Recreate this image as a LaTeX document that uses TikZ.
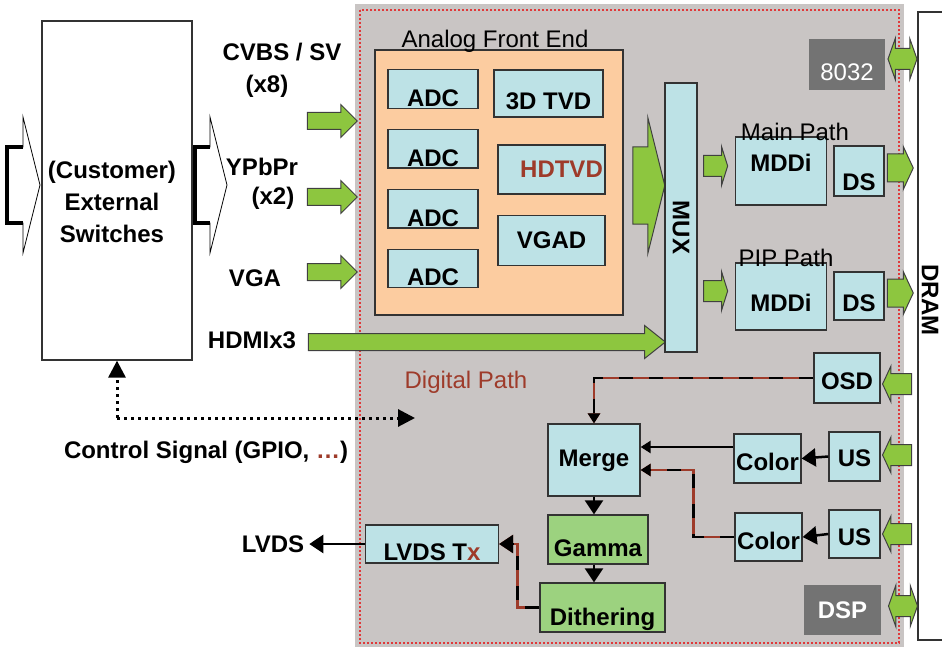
\documentclass[tikz,border=0pt]{standalone}
\usepackage{fontspec}
\setmainfont{Liberation Sans}
\usepackage{tikz}
\usetikzlibrary{positioning,arrows.meta,shapes.arrows}
\definecolor{ChipGray}{HTML}{C9C5C4}
\definecolor{FrontPeach}{HTML}{FCCCA0}
\definecolor{CellBlue}{HTML}{BDE2E6}
\definecolor{CellGreen}{HTML}{9CD27F}
\definecolor{ArrowGreen}{HTML}{8DC63F}
\definecolor{CoreGray}{HTML}{737373}
\definecolor{PathRed}{HTML}{9E3B2A}
\definecolor{BorderRed}{HTML}{E0393A}

\begin{document}
\begin{tikzpicture}[
  x=1pt,y=-1pt,
  every node/.style={align=center,inner sep=0pt},
  lbl/.style={font=\fontsize{24}{32}\selectfont\bfseries},
  plainlbl/.style={font=\fontsize{24}{32}\selectfont},
  cell/.style={lbl,draw=black!80,line width=1.3pt,fill=CellBlue},
  greencell/.style={cell,fill=CellGreen},
  core/.style={draw=black!55,line width=1.3pt,fill=CoreGray,text=white},
  garrow/.style={single arrow,draw=black!75,line width=1pt,fill=ArrowGreen,inner xsep=0pt,inner ysep=8pt,
    minimum width=32pt,single arrow head extend=8pt,minimum height=50pt},
  darrow/.style={double arrow,draw=black!75,line width=1pt,fill=ArrowGreen,inner xsep=0pt,inner ysep=10pt,
    minimum width=40pt,double arrow head extend=10pt,double arrow tip angle=141,minimum height=29pt},
  arr/.style={-{Triangle[width=12pt,length=10pt]},line width=2.5pt},
  bigarr/.style={-{Triangle[width=18pt,length=14pt]},line width=2.5pt},
  mixline/.style={arr,draw=PathRed,postaction={draw=black,dash pattern=on 14pt off 16pt}},
  ctrl/.style={-{Triangle[width=17pt,length=17pt]},line width=3pt,dash pattern=on 3pt off 4pt}
]
  \useasboundingbox (0,0) rectangle (942,647);

  % chip area
  \fill[ChipGray] (355,4) rectangle (904,647);
  \draw[BorderRed,line width=2pt,dash pattern=on 2pt off 2pt] (360,10) rectangle (899,643);

  % external side
  \node[draw=black!80,line width=1.3pt,fill=white,minimum width=150pt,minimum height=339pt] (cust) at (117,190.5) {};
  \node[lbl] (custlbl) at (112,202) {(Customer)\\External\\Switches};
  \draw[fill=white,line width=0.8pt] (7,147) -- (23,147) -- (23,117) -- (40,185) -- (23,253) -- (23,223) -- (7,223) -- cycle;
  \draw[line width=4pt] (23,147) -- (7,147) -- (7,223) -- (23,223);
  \draw[fill=white,line width=0.8pt] (195,147) -- (210,147) -- (210,117) -- (227,185) -- (210,253) -- (210,223) -- (195,223) -- cycle;
  \draw[line width=4pt] (210,147) -- (195,147) -- (195,223) -- (210,223);

  \node[lbl] (cvbslbl) at (282,52) {CVBS / SV};
  \node[lbl] (cvbsx) at (267,86) {(x8)};
  \node[lbl] (ypblbl) at (262,167) {YPbPr};
  \node[lbl] (ypbx) at (273,198) {(x2)};
  \node[lbl] (vgalbl) at (255,278) {VGA};
  \node[lbl] (hdmilbl) at (252,340) {HDMIx3};
  \node[lbl] (ctrllbl) at (206,452) {Control Signal (GPIO, \textcolor{PathRed}{…})};
  \node[lbl] (lvdslbl) at (273,544) {LVDS};

  \node[garrow] (cvbsarr) at (328,121) {};
  \node[garrow] (ypbarr) at (328,197) {};
  \node[garrow] (vgaarr) at (328,272) {};
  \node[garrow,minimum height=357pt,single arrow tip angle=77] (hdmiarr) at (481.5,342) {};

  % analog front end
  \node[draw=black!80,line width=1.3pt,fill=FrontPeach,minimum width=248pt,minimum height=265pt] (afe) at (499,182.5) {};
  \node[plainlbl] (afelbl) at (495,41) {Analog Front End};
  \node[cell,minimum width=90pt,minimum height=38.5pt,text height=35pt,text depth=0pt] (adc1) at (433,89) {ADC};
  \node[cell,minimum width=90pt,minimum height=38.5pt,text height=35pt,text depth=0pt,below=20pt of adc1] (adc2) {ADC};
  \node[cell,minimum width=90pt,minimum height=38.5pt,text height=35pt,text depth=0pt,below=20pt of adc2] (adc3) {ADC};
  \node[cell,minimum width=90pt,minimum height=38.5pt,text height=35pt,text depth=0pt,below=20pt of adc3] (adc4) {ADC};
  \node[cell,minimum width=109pt,minimum height=47pt,text height=33pt,text depth=0pt] (tvd3d) at (548.5,93.5) {3D TVD};
  \node[cell,minimum width=107pt,minimum height=49pt,text=PathRed] (hdtvd) at (551.5,169.5) {\hspace*{20pt}HDTVD};
  \node[cell,minimum width=107pt,minimum height=50pt,below=20pt of hdtvd] (vgad) {VGAD};
  \node[garrow,inner ysep=38pt,minimum width=135pt,
    single arrow head extend=29.5pt,single arrow tip angle=152,minimum height=32pt] (afearr) at (644,185.5) {};

  % mux and video paths
  \node[cell,rotate=-90,minimum width=269pt,minimum height=32pt] (mux) at (681,217.5) {\hspace*{20pt}MUX};
  \node[garrow,inner ysep=10pt,minimum height=24pt,minimum width=38pt,single arrow head extend=9pt,single arrow tip angle=145] (mainarr) at (714,166) {};
  \node[garrow,inner ysep=10pt,minimum height=24pt,minimum width=38pt,single arrow head extend=9pt,single arrow tip angle=145] (piparr) at (714,291) {};
  \node[cell,minimum width=91pt,minimum height=68pt,text height=17pt,text depth=16pt] (mddi1) at (781,171) {MDDi};
  \node[cell,minimum width=50pt,minimum height=50pt,text height=39pt,text depth=0pt] (ds1) at (859,171) {DS};
  \node[cell,minimum width=91pt,minimum height=67pt,text height=30pt,text depth=0pt] (mddi2) at (781,296.5) {MDDi};
  \node[cell,minimum width=50pt,minimum height=48pt,text height=31pt,text depth=0pt] (ds2) at (859,296) {DS};
  \node[plainlbl] (mainlbl) at (795,132) {Main Path};
  \node[plainlbl] (piplbl) at (786,258) {PIP Path};

  \node[core,plainlbl,minimum width=74pt,minimum height=49pt,text height=32pt,text depth=0pt] (cpu) at (847,64.5) {8032};
  \node[core,lbl,minimum width=75pt,minimum height=48pt] (dsp) at (842.5,610) {DSP};

  % digital path
  \node[plainlbl,text=PathRed] (digilbl) at (466,382) {Digital Path};
  \node[cell,minimum width=66pt,minimum height=50pt,text height=23pt,text depth=0pt] (osd) at (847,378) {OSD};
  \node[cell,minimum width=51pt,minimum height=49pt,text height=20pt,text depth=0pt] (us1) at (854.5,456.5) {US};
  \node[cell,minimum width=67pt,minimum height=49pt,text height=24pt,text depth=0pt] (color1) at (767.5,458.5) {Color};
  \node[cell,minimum width=51pt,minimum height=48pt,text height=23pt,text depth=0pt] (us2) at (854.5,534) {US};
  \node[cell,minimum width=67pt,minimum height=48pt,text height=25pt,text depth=0pt] (color2) at (768.5,537) {Color};
  \node[cell,minimum width=92pt,minimum height=72pt,text height=17pt,text depth=4pt] (merge) at (594,460) {Merge};
  \node[greencell,minimum width=100pt,minimum height=49pt,text height=34pt,text depth=0pt] (gamma) at (598,539.5) {Gamma};
  \node[greencell,minimum width=125pt,minimum height=49pt,text height=36pt,text depth=0pt] (dither) at (602.5,607.5) {Dithering};
  \node[cell,minimum width=133pt,minimum height=38pt,text height=33pt,text depth=0pt] (lvdstx) at (432,544) {LVDS T\textcolor{PathRed}{x}};

  % memory
  \node[draw=black!80,line width=1.3pt,fill=white,minimum width=44pt,minimum height=628pt] (dram) at (940,326) {};
  \node[lbl,rotate=-90] (dramlbl) at (930,300) {DRAM};
  \node[darrow] (cpuarr) at (902.5,59) {};
  \node[garrow,inner ysep=13.5pt,minimum height=26pt,minimum width=42pt,single arrow head extend=7.5pt,single arrow tip angle=130] (ds1arr) at (897,168) {};
  \node[garrow,inner ysep=13.5pt,minimum height=26pt,minimum width=42pt,single arrow head extend=7.5pt,single arrow tip angle=130] (ds2arr) at (897,293) {};
  \node[garrow,shape border rotate=180,inner ysep=10pt,minimum height=29pt,minimum width=35pt,single arrow head extend=7.5pt,single arrow tip angle=130] (osdarr) at (899.5,384) {};
  \node[garrow,shape border rotate=180,inner ysep=10pt,minimum height=29pt,minimum width=35pt,single arrow head extend=7.5pt,single arrow tip angle=130] (us1arr) at (899.5,455) {};
  \node[garrow,shape border rotate=180,inner ysep=10pt,minimum height=29pt,minimum width=35pt,single arrow head extend=7.5pt,single arrow tip angle=130] (us2arr) at (899.5,534) {};
  \node[darrow] (dsparr) at (903,606) {};

  % connectors
  \coordinate (ctrlbend) at (117,418);
  \coordinate (ctrlend) at (415,418);
  \draw[ctrl] (ctrlbend) -- (cust.south);
  \draw[ctrl] (ctrlbend) -- (ctrlend);

  \draw[mixline] (osd.west) -| (merge.north);
  \draw[arr] ([yshift=11.5pt]color1.west) -- ([yshift=11.5pt]color1.west -| merge.east);
  \draw[mixline] (color2.west) -- ++(-41,0) |- ([yshift=-10pt]merge.east);
  \draw[bigarr] (us1.west) -- (color1.east);
  \draw[bigarr] (us2.west) -- (color2.east);
  \draw[bigarr] (merge.south) -- (merge.south |- gamma.north);
  \draw[bigarr] (merge.south |- gamma.south) -- (merge.south |- dither.north);
  \draw[mixline,-{Triangle[width=18pt,length=14pt]}] (dither.west) -- ++(-22,0) |- (lvdstx.east);
  \draw[bigarr,shorten >=5pt] (lvdstx.west) -- (lvdstx.west -| lvdslbl.east);
\end{tikzpicture}
\end{document}
